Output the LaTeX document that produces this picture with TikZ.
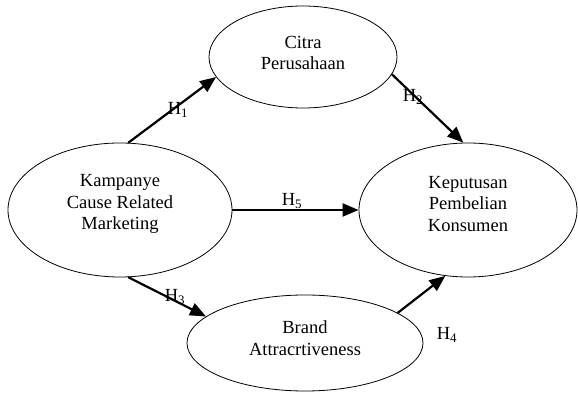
\documentclass[tikz,border=0pt]{standalone}
\usepackage{fontspec}
\setmainfont{Liberation Serif}
\usetikzlibrary{shapes.geometric,arrows.meta}
\begin{document}
\begin{tikzpicture}[x=1pt,y=1pt,
  construct/.style={draw=black,line width=0.8pt,ellipse,inner sep=0pt},
  txt/.style={align=center,font=\fontsize{18.5}{21.7}\selectfont,inner sep=0pt},
  hyp/.style={font=\fontsize{18.5}{21.7}\selectfont,inner sep=0pt},
  path/.style={line width=2.2pt,-{Triangle[length=16pt,width=13pt]}}]
\useasboundingbox (0,0) rectangle (578,393);
% ellipses (image y -> 393 - y)
\node[construct,minimum width=188pt,minimum height=102pt] (citra) at (303,336) {};
\node[construct,minimum width=224pt,minimum height=134pt] (kamp) at (120,183) {};
\node[construct,minimum width=218pt,minimum height=134pt] (kep) at (468,183) {};
\node[construct,minimum width=236pt,minimum height=96pt] (brand) at (305,50) {};
% texts
\node[txt] (tcitra) at ([yshift=4pt]citra.center) {Citra\\Perusahaan};
\node[txt] (tkamp) at ([yshift=6pt]kamp.center) {Kampanye\\Cause Related\\Marketing};
\node[txt] (tkep) at ([yshift=6pt]kep.center) {Keputusan\\Pembelian\\Konsumen};
\node[txt] (tbrand) at ([yshift=5pt]brand.center) {Brand\\Attracrtiveness};
% paths
\draw[path] (kamp.83) -- (citra.193);
\draw[path] (citra.349) -- (kep.94);
\draw[path] (kamp.0) -- (kep.180);
\draw[path] (kamp.277) -- (brand.165);
\draw[path] (brand.18.6) -- (kep.251);
% labels
\node[hyp] (h1) at (178,283) {H\textsubscript{1}};
\node[hyp] (h2) at (413,296) {H\textsubscript{2}};
\node[hyp] (h5) at (292,192) {H\textsubscript{5}};
\node[hyp] (h3) at (175,96) {H\textsubscript{3}};
\node[hyp] (h4) at (447,58) {H\textsubscript{4}};
\end{tikzpicture}
\end{document}
